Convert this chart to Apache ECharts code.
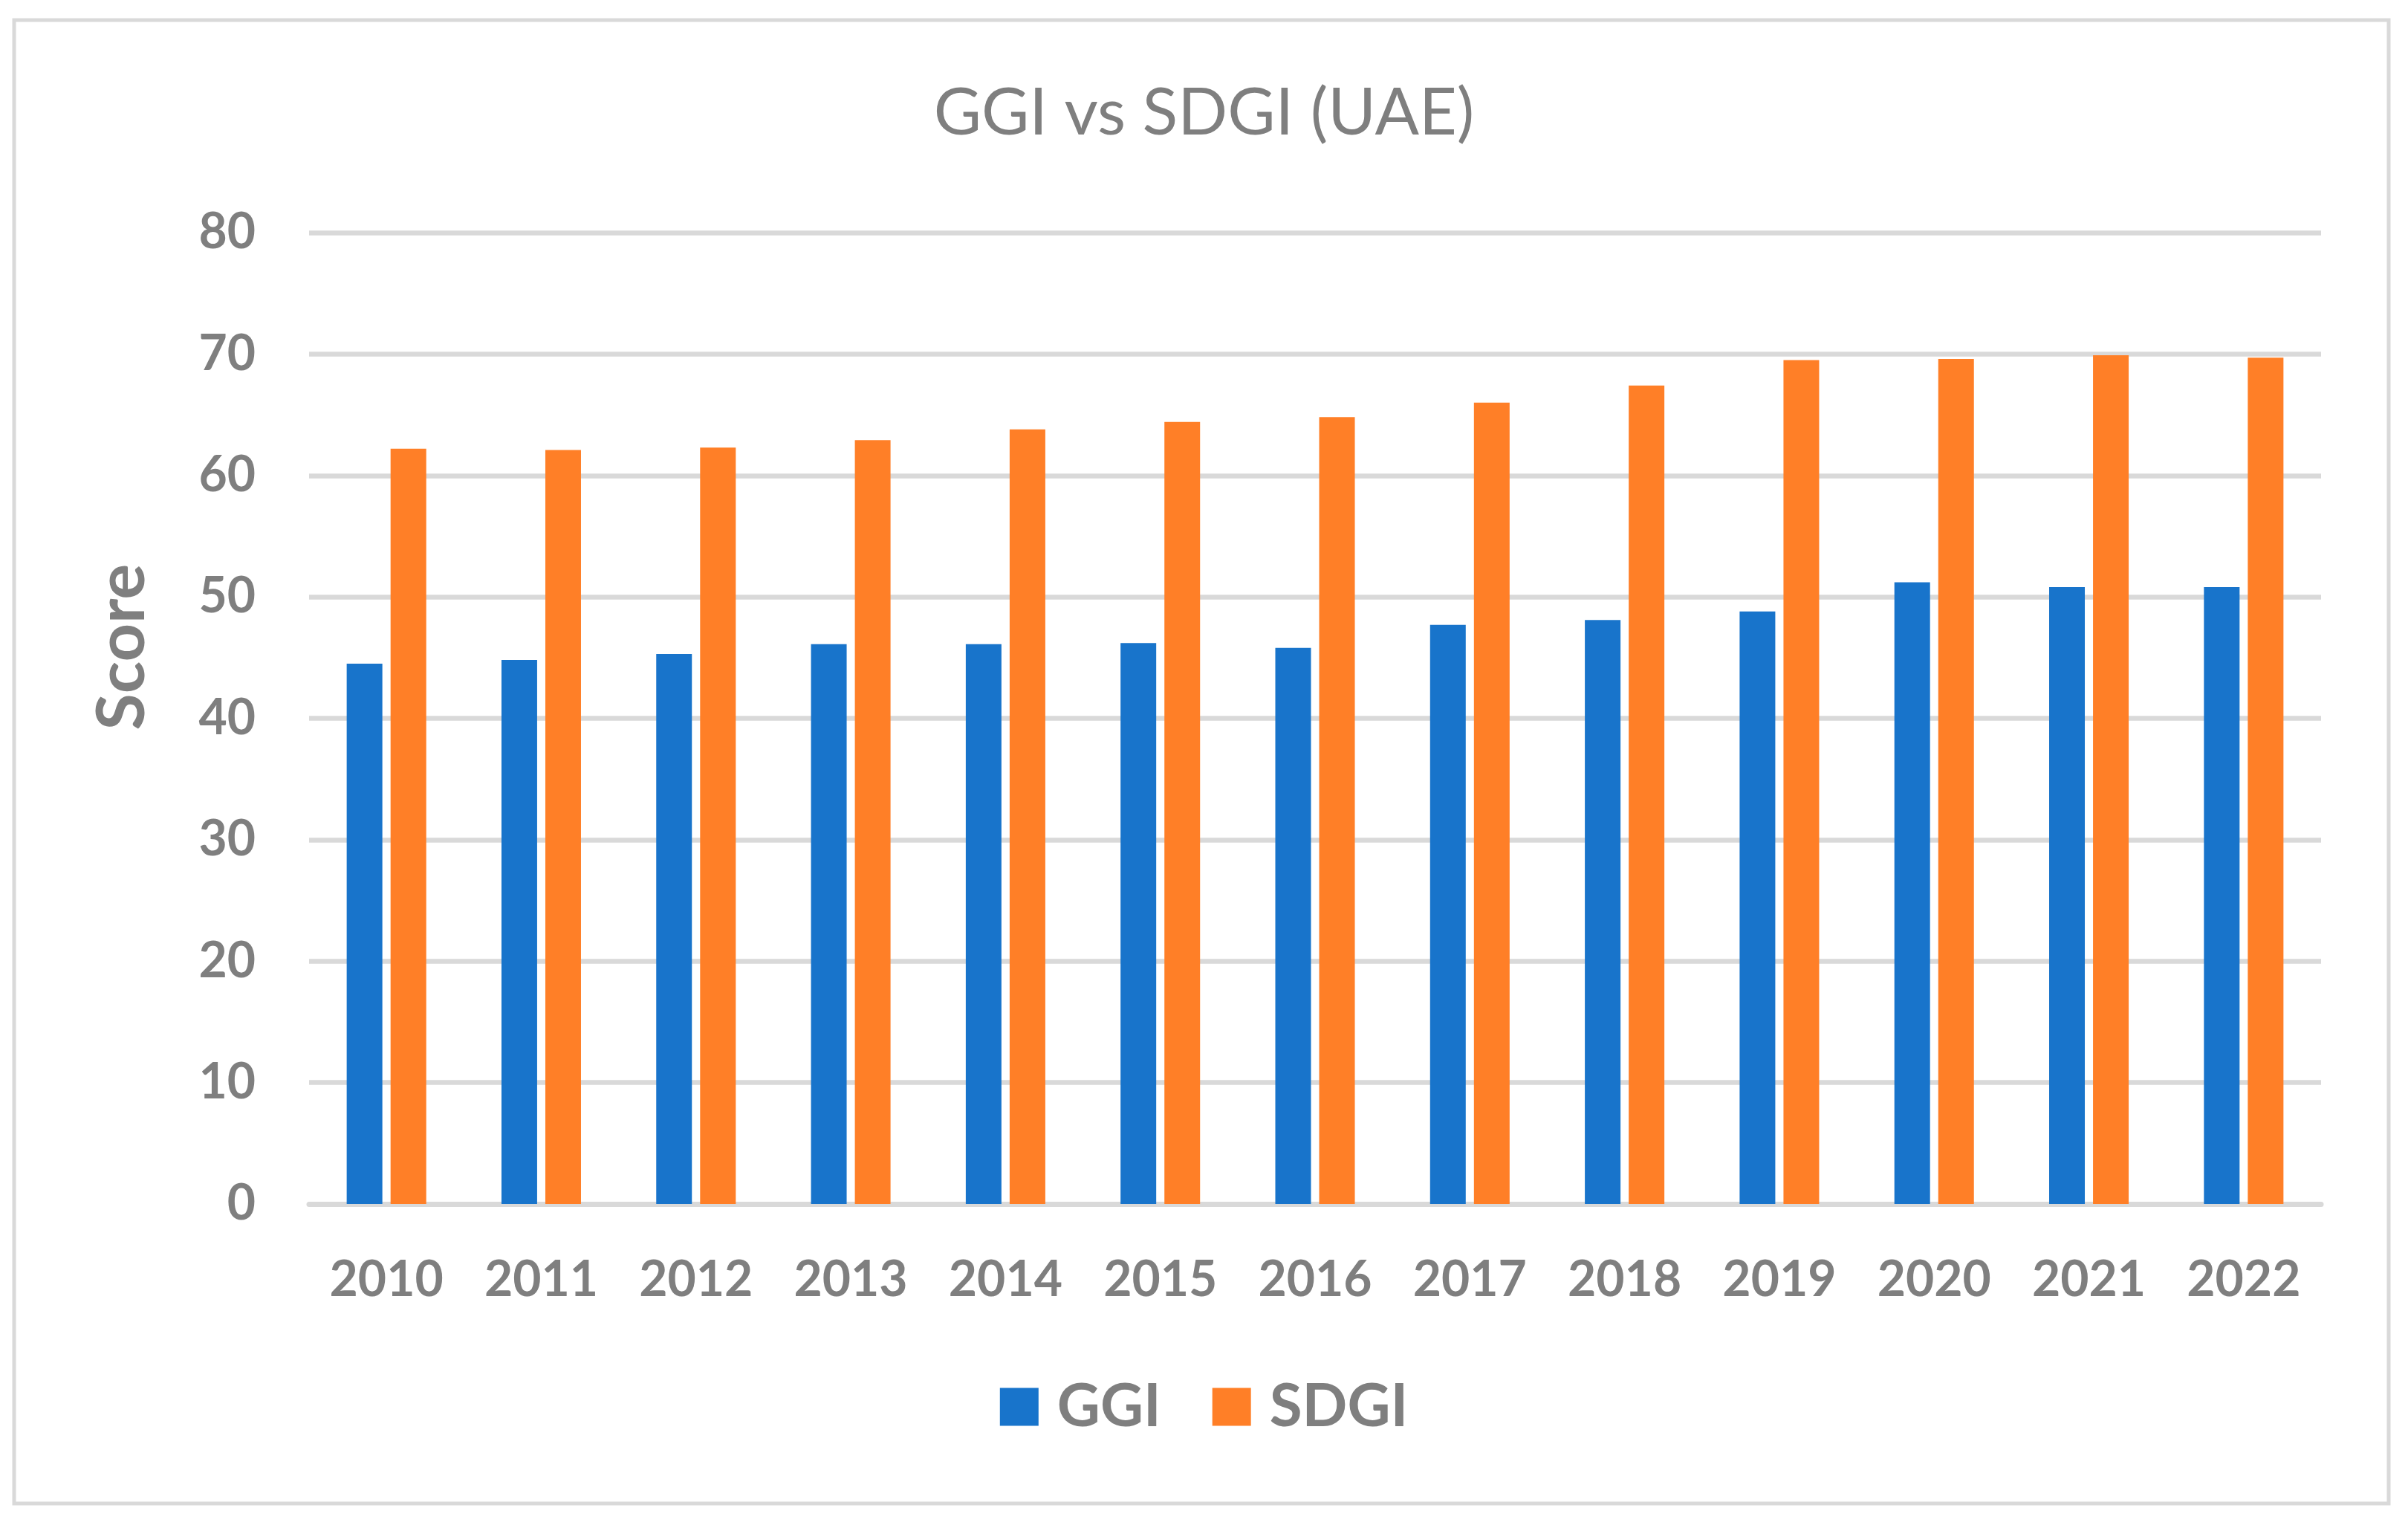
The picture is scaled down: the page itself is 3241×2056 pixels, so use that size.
<!DOCTYPE html>
<html>
<head>
<meta charset="utf-8">
<script src="https://cdn.jsdelivr.net/npm/echarts@6/dist/echarts.min.js"></script>
<style>
html,body{margin:0;padding:0;background:#fff;}
#chart{width:3241px;height:2056px;}
</style>
</head>
<body>
<div id="chart"></div>
<script>
const years = ['2010','2011','2012','2013','2014','2015','2016','2017','2018','2019','2020','2021','2022'];
const ggi = [44.5, 44.8, 45.3, 46.1, 46.1, 46.2, 45.8, 47.7, 48.1, 48.8, 51.2, 50.8, 50.8];
const sdgi = [62.2, 62.1, 62.3, 62.9, 63.8, 64.4, 64.8, 66.0, 67.4, 69.5, 69.6, 69.9, 69.7];
const yTicks = {min: 0, max: 80, interval: 10};
const titleText = 'GGI vs SDGI (UAE)';
const yName = 'Score';
const seriesNames = ['GGI', 'SDGI'];

const gray = '#7f7f7f';
const gridColor = '#d9d9d9';
const font = 'Lato';

const chart = echarts.init(document.getElementById('chart'), null, {renderer: 'canvas'});
chart.setOption({
  backgroundColor: '#ffffff',
  animation: false,
  color: ['#1874CB', '#FF7F27'],
  title: {
    text: titleText,
    left: 'center',
    top: 104,
    textStyle: {color: gray, fontFamily: font, fontWeight: 'normal', fontSize: 88}
  },
  graphic: [{
    type: 'rect',
    shape: {x: 19, y: 27, width: 3196, height: 1996},
    style: {fill: 'none', stroke: gridColor, lineWidth: 5},
    silent: true
  }],
  legend: {
    data: seriesNames,
    left: 'center',
    top: 1848,
    icon: 'rect',
    itemWidth: 52,
    itemHeight: 51,
    itemGap: 69,
    textStyle: {color: gray, fontFamily: font, fontWeight: 'bold', fontSize: 80, padding: [0, 0, 0, 20]}
  },
  grid: {left: 416, right: 117, top: 313, bottom: 436, containLabel: false},
  xAxis: {
    type: 'category',
    data: years,
    axisTick: {show: false},
    axisLine: {lineStyle: {color: gridColor, width: 7}},
    axisLabel: {color: gray, fontFamily: font, fontWeight: 'bold', fontSize: 66, margin: 70}
  },
  yAxis: {
    type: 'value',
    min: yTicks.min,
    max: yTicks.max,
    interval: yTicks.interval,
    name: yName,
    nameLocation: 'middle',
    nameRotate: 90,
    nameGap: 206,
    nameTextStyle: {color: gray, fontFamily: font, fontWeight: 'bold', fontSize: 90, padding: [0, 0, 0, 192]},
    axisLine: {show: false},
    axisTick: {show: false},
    splitLine: {lineStyle: {color: gridColor, width: 6.5}},
    axisLabel: {color: gray, fontFamily: font, fontWeight: 'bold', fontSize: 66, margin: 72}
  },
  series: [
    {name: seriesNames[0], type: 'bar', data: ggi, barWidth: 48, barGap: '23%'},
    {name: seriesNames[1], type: 'bar', data: sdgi, barWidth: 48, barGap: '23%'}
  ]
});
</script>
</body>
</html>
